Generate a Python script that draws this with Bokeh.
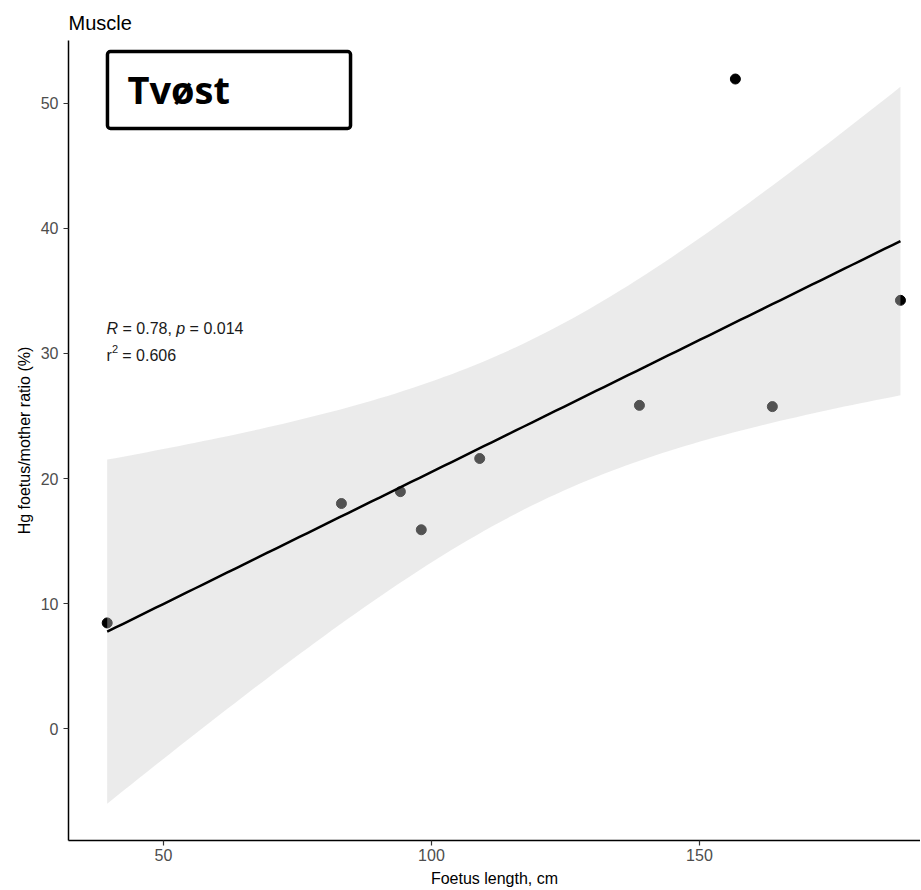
import numpy as np
from bokeh.plotting import figure
from bokeh.models import Range1d, FixedTicker, Label, BoxAnnotation
from bokeh.embed import file_html
from bokeh.resources import INLINE

# ---- data ----
foetus_length = [39.5, 83.2, 94.2, 98.1, 109.0, 138.8, 156.7, 163.6, 187.5]
hg_ratio = [8.45, 18.0, 18.95, 15.9, 21.6, 25.85, 51.95, 25.75, 34.25]
x_ticks = [50, 100, 150]
y_ticks = [0, 10, 20, 30, 40, 50]
panel_title = "Muscle"
group_label = "Tvøst"
x_label = "Foetus length, cm"
y_label = "Hg foetus/mother ratio (%)"
r_text = "0.78"
p_text = "0.014"
r2_text = "0.606"
T_CRIT = 2.364624  # t(0.975, df = n - 2 = 7)

# ---- linear fit with 95% confidence band (geom_smooth(method = "lm")) ----
x = np.array(foetus_length)
y = np.array(hg_ratio)
n = len(x)
slope, intercept = np.polyfit(x, y, 1)
xg = np.linspace(x.min(), x.max(), 100)
yg = intercept + slope * xg
resid = y - (intercept + slope * x)
s = np.sqrt((resid ** 2).sum() / (n - 2))
sxx = ((x - x.mean()) ** 2).sum()
se = s * np.sqrt(1.0 / n + (xg - x.mean()) ** 2 / sxx)
lower = yg - T_CRIT * se
upper = yg + T_CRIT * se

FONT = "Liberation Sans"

p = figure(width=920, height=889,
           x_range=Range1d(32.28, 191.24), y_range=Range1d(-8.95, 55.03),
           output_backend="svg", toolbar_location=None,
           min_border_left=68, min_border_right=0, min_border_top=40, min_border_bottom=48,
           title=panel_title)

p.title.text_font = FONT
p.title.text_font_size = "20px"
p.title.text_font_style = "normal"
p.title.text_color = "black"
p.title.align = "left"
p.title.offset = 0
p.title.standoff = 14

p.outline_line_color = None
p.xgrid.visible = False
p.ygrid.visible = False
p.background_fill_color = "white"

for ax in (p.xaxis[0], p.yaxis[0]):
    ax.axis_line_color = "black"
    ax.axis_line_width = 1.5
    ax.major_tick_line_color = "#333333"
    ax.major_tick_line_width = 1.2
    ax.major_tick_out = 5
    ax.major_tick_in = 0
    ax.minor_tick_line_color = None
    ax.major_label_text_font = FONT
    ax.major_label_text_font_size = "16px"
    ax.major_label_text_color = "#4D4D4D"
    ax.axis_label_text_font = FONT
    ax.axis_label_text_font_size = "16px"
    ax.axis_label_text_font_style = "normal"
    ax.axis_label_text_color = "black"

p.xaxis.ticker = FixedTicker(ticks=x_ticks)
p.yaxis.ticker = FixedTicker(ticks=y_ticks)
p.xaxis.axis_label = x_label
p.yaxis.axis_label = y_label
p.xaxis.major_label_standoff = 3
p.xaxis.axis_label_standoff = 6
p.yaxis.major_label_standoff = 5
p.yaxis.axis_label_standoff = 5

# points, then the confidence ribbon over them, then the fitted line
p.scatter(x=foetus_length, y=hg_ratio, size=10, color="black")
p.varea(x=xg, y1=lower, y2=upper, fill_color="#CCCCCC", fill_alpha=0.4)
p.line(x=xg, y=yg, line_color="black", line_width=2.5)

# boxed group label
p.add_layout(BoxAnnotation(left=39.55, right=84.9, bottom=48.0, top=54.15,
                           fill_color=None, fill_alpha=0,
                           line_color="black", line_alpha=1.0, line_width=3.5,
                           border_radius=3))
p.add_layout(Label(x=39.55, y=51.15, x_offset=20, text=group_label,
                   text_font="Open Sans", text_font_style="bold", text_font_size="38px",
                   text_color="black", text_baseline="alphabetic"))

# statistics text (leading spaces are dropped in SVG, so spaces go into offsets)
sx, y1, y2 = 39.37, 32.03, 29.83
stat_parts = [
    ("R", "italic", 0.0, y1, "16px"),
    ("= " + r_text + ",", "normal", 16.0, y1, "16px"),
    ("p", "italic", 69.8, y1, "16px"),
    ("= " + p_text, "normal", 83.1, y1, "16px"),
    ("r", "normal", 0.0, y2, "16px"),
    ("2", "normal", 5.4, y2 + 0.5, "11px"),
    ("= " + r2_text, "normal", 15.8, y2, "16px"),
]
for txt, style, off, yy, fs in stat_parts:
    p.add_layout(Label(x=sx, y=yy, x_offset=off, text=txt, text_font=FONT,
                       text_font_style=style, text_font_size=fs,
                       text_color="#1A1A1A", text_baseline="alphabetic"))

open("out.html", "w").write(file_html(p, INLINE))
